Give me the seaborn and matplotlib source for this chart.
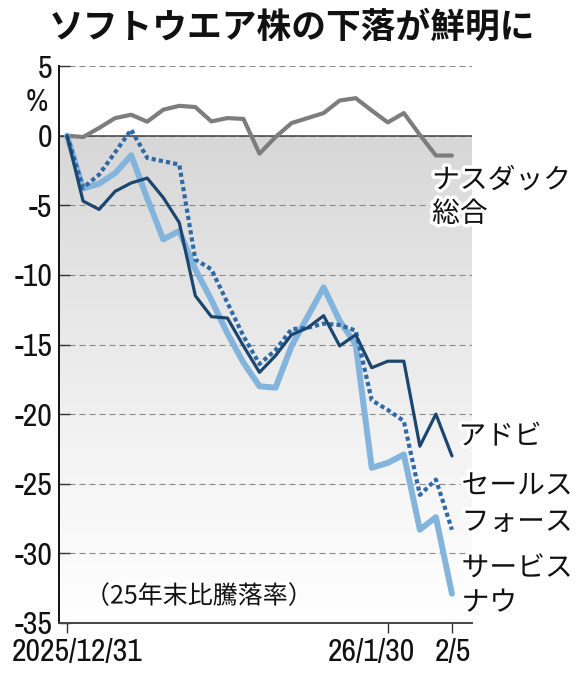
import numpy as np
import pandas as pd
import matplotlib
matplotlib.use("Agg")
import matplotlib.pyplot as plt
import seaborn as sns
from matplotlib import patheffects as pe
from matplotlib.transforms import ScaledTranslation
from matplotlib.colors import LinearSegmentedColormap

# ---------------- data ----------------
trading_day = list(range(25))  # 2025/12/31 .. 2026/2/5 (business days)
nasdaq = [0, -0.1, 0.55, 1.26, 1.5, 1.0, 1.86, 2.14, 2.05, 1.02, 1.26, 1.2,
          -1.29, -0.1, 0.9, 1.26, 1.62, 2.52, 2.69, 1.8, 0.95, 1.62, 0.05, -1.43, -1.43]
adobe = [0, -4.7, -5.3, -4.0, -3.4, -3.05, -4.45, -6.25, -11.5, -13.0, -13.1, -15.1,
         -17.0, -15.8, -14.3, -13.8, -12.93, -15.1, -14.3, -16.67, -16.2, -16.2, -22.3, -20.0, -23.0]
salesforce = [0, -3.75, -2.8, -1.2, 0.43, -1.6, -1.84, -2.08, -8.9, -9.6, -12.0, -14.4,
              -16.4, -15.4, -13.9, -13.8, -13.5, -13.6, -14.0, -19.0, -19.7, -20.5, -25.8, -24.7, -28.3]
servicenow = [0, -3.8, -3.45, -2.7, -1.41, -4.5, -7.45, -6.85, -9.6, -11.8, -14.2, -16.3,
              -18.0, -18.1, -15.1, -13.0, -10.9, -13.3, -15.0, -23.85, -23.5, -22.9, -28.3, -27.4, -32.9]

series_names = ["ナスダック\n総合", "アドビ", "セールス\nフォース", "サービス\nナウ"]
y_ticks = [5, 0, -5, -10, -15, -20, -25, -30, -35]
y_tick_labels = ["5", "0", "-5", "-10", "-15", "-20", "-25", "-30", "-35"]
x_tick_days = [0, 20, 24]
x_tick_labels = ["2025/12/31", "26/1/30", "2/5"]
title = "ソフトウエア株の下落が鮮明に"
note = "（25年末比騰落率）"

# ---------------- style ----------------
sns.set_theme(style="white")
plt.rcParams['font.family'] = ['Noto Sans CJK JP', 'DejaVu Sans']
narrow = ['Archivo Narrow', 'Liberation Sans', 'DejaVu Sans']

fig = plt.figure(figsize=(5.82, 6.8), dpi=100)
W, H = 582, 680
ax = fig.add_axes([59 / W, 1 - 623 / H, (472 - 59) / W, (623 - 66) / H])

grad = np.linspace(0, 1, 256).reshape(-1, 1)
cmap = LinearSegmentedColormap.from_list('bg', ['#d7d7d7', '#e6e6e6', '#f4f4f4', '#ffffff'])
ax.imshow(grad, extent=[-0.5, 25.25, -35, 0], origin='upper', cmap=cmap,
          aspect='auto', zorder=0, interpolation='bilinear')

ax.axhline(0, color='#4a4a4a', lw=1.1, zorder=1)

sns.lineplot(x=trading_day, y=nasdaq, ax=ax, color='#7d7d7d', lw=3.0, zorder=3)
sns.lineplot(x=trading_day, y=servicenow, ax=ax, color='#82b4dc', lw=4.3, zorder=4)
sns.lineplot(x=trading_day, y=salesforce, ax=ax, color='#2f69a6', lw=3.0, zorder=5,
             linestyle=(0, (1.0, 0.75)), dash_capstyle='butt')
sns.lineplot(x=trading_day, y=adobe, ax=ax, color='#1b4670', lw=2.3, zorder=6)

ax.set_xlim(-0.5, 25.25)
ax.set_ylim(-35, 5)
ax.set_yticks(y_ticks)
ax.set_yticklabels(y_tick_labels)
ax.set_xticks(x_tick_days)
ax.set_xticklabels(x_tick_labels)
ax.set_xlabel("")
ax.set_ylabel("")

ax.yaxis.grid(True, linestyle=(0, (5.5, 3.5)), color='#8a8a8a', lw=0.8)
ax.xaxis.grid(False)
ax.set_axisbelow(True)

ax.tick_params(axis='y', direction='in', length=8, width=1, color='#333333', pad=5,
               labelsize=23, labelcolor='#111111', left=True)
ax.tick_params(axis='x', direction='out', length=7, width=1, color='#333333', pad=4,
               labelsize=23, labelcolor='#111111', bottom=True)
for lab in ax.get_xticklabels() + ax.get_yticklabels():
    lab.set_fontfamily(narrow)

x_offsets_px = [10.5, -16.3, 1.0]
for lab, dx in zip(ax.get_xticklabels(), x_offsets_px):
    lab.set_transform(lab.get_transform() + ScaledTranslation(dx / 100, 0, fig.dpi_scale_trans))

for s in ['top', 'right']:
    ax.spines[s].set_visible(False)
ax.spines['left'].set_color('#111111')
ax.spines['left'].set_linewidth(1.4)
ax.spines['bottom'].set_color('#444444')
ax.spines['bottom'].set_linewidth(1.4)

label_pos = [(22.76, -4.41), (24.4, -21.6), (24.6, -26.45), (24.6, -32.3)]
label_spacing = [1.15, 1.0, 1.28, 1.2]
halo = [pe.withStroke(linewidth=5, foreground='white')]
for name, (lx, ly), ls in zip(series_names, label_pos, label_spacing):
    ax.text(lx, ly, name, ha='left', va='center', fontsize=20, linespacing=ls,
            color='#111111', zorder=8, clip_on=False, path_effects=halo)

ax.text(1.12, -33.1, note, ha='left', va='center', fontsize=18, color='#111111',
        zorder=8, path_effects=halo)

fig.text(37 / W, 1 - 102 / H, "%", ha='center', va='center', fontsize=22,
         color='#111111', fontfamily=narrow)
fig.text(292 / W, 1 - 27 / H, title, ha='center', va='center', fontsize=25,
         fontweight='bold', color='#111111')

fig.savefig("out.png", dpi=100)
